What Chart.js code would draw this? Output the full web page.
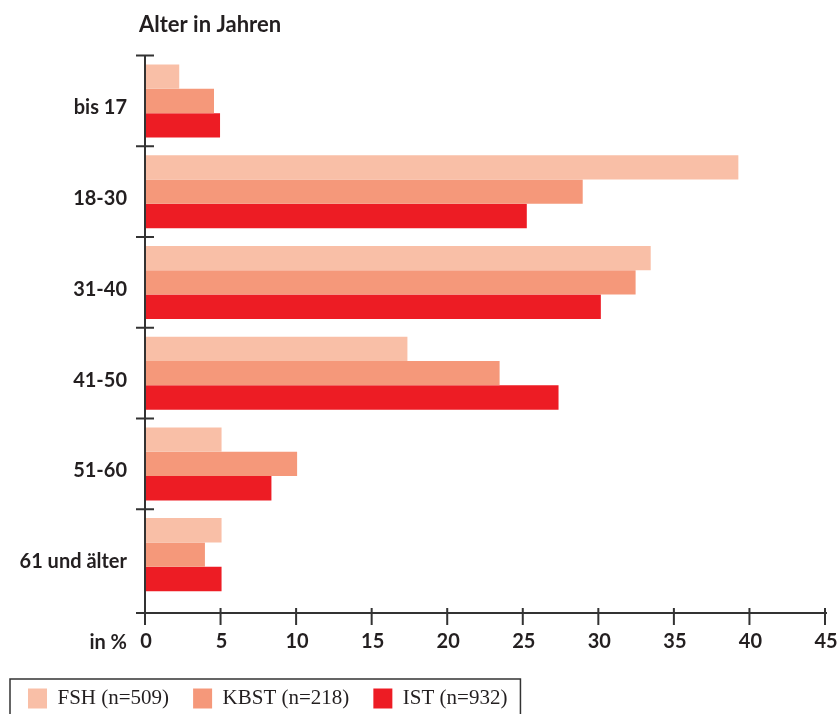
<!DOCTYPE html>
<html>
<head>
<meta charset="utf-8">
<script src="https://cdn.jsdelivr.net/npm/chart.js@4/dist/chart.umd.min.js"></script>
<style>
  html, body { margin: 0; padding: 0; background: #fff; }
  #wrap { width: 840px; height: 714px; position: relative; }
</style>
</head>
<body>
<div id="wrap"><canvas id="c" width="840" height="714"></canvas></div>
<script>
// Altersverteilung in Prozent je Gruppe
const ageGroups = ['bis 17', '18-30', '31-40', '41-50', '51-60', '61 und älter'];
const fshValues = [2.2, 39.2, 33.4, 17.3, 5.0, 5.0];
const kbstValues = [4.5, 28.9, 32.4, 23.4, 10.0, 3.9];
const istValues = [4.9, 25.2, 30.1, 27.3, 8.3, 5.0];
const seriesNames = ['FSH (n=509)', 'KBST (n=218)', 'IST (n=932)'];
const xTickValues = [0, 5, 10, 15, 20, 25, 30, 35, 40, 45];

const colors = ['#F9BFA7', '#F5987A', '#ED1C24'];
const axisColor = '#333333';
const textColor = '#231f20';
const sansFamily = 'Lato, "Open Sans", sans-serif';

// Achsen mit durchgehenden Strichmarken, Überschrift und Legendenrahmen
const axisDecor = {
  id: 'axisDecor',
  afterDraw(chart) {
    const { ctx, chartArea: a, scales: { x } } = chart;
    const step = (a.bottom - a.top) / ageGroups.length;
    const axisY = a.bottom + 13;
    const x0 = a.left - 1;
    ctx.save();
    ctx.strokeStyle = axisColor;
    ctx.lineWidth = 2;
    ctx.lineCap = 'butt';
    ctx.beginPath();
    // y-Achse
    ctx.moveTo(x0, a.top - 1);
    ctx.lineTo(x0, axisY + 11);
    // Gruppengrenzen
    for (let i = 0; i < ageGroups.length; i++) {
      const yy = a.top + i * step;
      ctx.moveTo(x0 - 9, yy);
      ctx.lineTo(x0 + 9, yy);
    }
    // x-Achse
    ctx.moveTo(x0 - 9, axisY);
    ctx.lineTo(x.getPixelForValue(45) + 1, axisY);
    xTickValues.forEach(v => {
      const px = x.getPixelForValue(v) - 1;
      ctx.moveTo(px, axisY - 5);
      ctx.lineTo(px, axisY + 12);
    });
    ctx.stroke();

    ctx.fillStyle = textColor;
    ctx.font = 'bold 22px ' + sansFamily;
    ctx.textAlign = 'left';
    ctx.textBaseline = 'alphabetic';
    ctx.fillText('Alter in Jahren', a.left - 7, 32);

    ctx.font = 'bold 20px ' + sansFamily;
    ctx.textAlign = 'right';
    ctx.fillText('in %', a.left - 19, axisY + 36);

    // Rahmen um die Legende
    const hb = chart.legend.legendHitBoxes;
    if (hb && hb.length) {
      const last = hb[hb.length - 1];
      const left = hb[0].left - 18;
      const right = last.left + last.width + 13;
      ctx.lineWidth = 1.5;
      ctx.strokeRect(left, hb[0].top - 9, right - left, 60);
    }
    ctx.restore();
  }
};

new Chart(document.getElementById('c'), {
  type: 'bar',
  data: {
    labels: ageGroups,
    datasets: [
      { label: seriesNames[0], data: fshValues, backgroundColor: colors[0] },
      { label: seriesNames[1], data: kbstValues, backgroundColor: colors[1] },
      { label: seriesNames[2], data: istValues, backgroundColor: colors[2] }
    ]
  },
  options: {
    indexAxis: 'y',
    responsive: false,
    animation: false,
    devicePixelRatio: 1,
    datasets: {
      bar: { borderWidth: 0, categoryPercentage: 0.805, barPercentage: 1.0 }
    },
    layout: { padding: { left: 4, right: 14, top: 55.6, bottom: 0 } },
    scales: {
      x: {
        min: 0,
        max: 45,
        afterBuildTicks(scale) { scale.ticks = xTickValues.map(v => ({ value: v })); },
        afterFit(scale) {
          scale.height = 64;
          scale.paddingLeft = 0;
          scale.paddingRight = 0;
        },
        grid: { display: false, drawTicks: false },
        border: { display: false },
        ticks: {
          color: textColor,
          font: { family: sansFamily, weight: 'bold', size: 20 },
          padding: 30
        }
      },
      y: {
        offset: true,
        afterFit(scale) {
          scale.width = 142;
          scale.paddingTop = 0;
          scale.paddingBottom = 0;
        },
        grid: { display: false, drawTicks: false },
        border: { display: false },
        ticks: {
          color: textColor,
          font: { family: sansFamily, weight: 'bold', size: 20 },
          padding: 19,
          labelOffset: 7
        }
      }
    },
    plugins: {
      title: { display: false },
      tooltip: { enabled: false },
      legend: {
        position: 'bottom',
        align: 'start',
        maxHeight: 50,
        labels: {
          boxWidth: 19,
          boxHeight: 20,
          padding: 24,
          color: textColor,
          font: { family: '"Liberation Serif", "DejaVu Serif", serif', size: 21 }
        }
      }
    }
  },
  plugins: [axisDecor]
});
</script>
</body>
</html>
